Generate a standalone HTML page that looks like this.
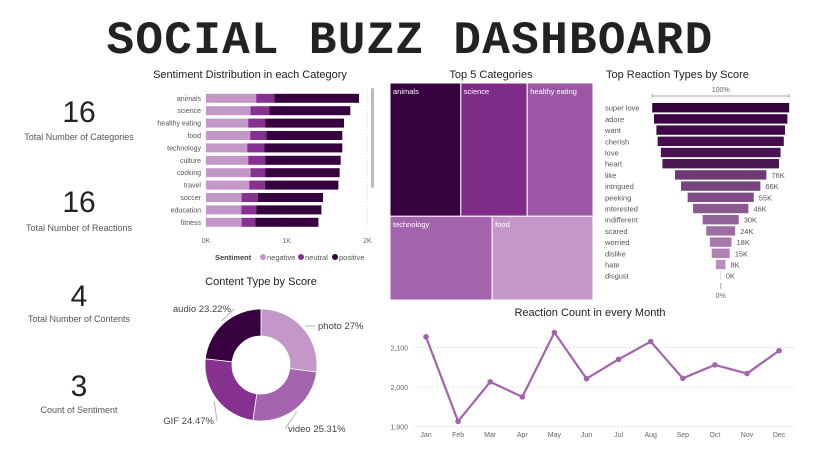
<!DOCTYPE html>
<html><head><meta charset="utf-8"><style>
html,body{margin:0;padding:0;background:#fff;}
svg{display:block;font-family:"Liberation Sans",sans-serif;}
</style></head><body>
<svg id="s" width="819" height="460" viewBox="0 0 819 460" xmlns="http://www.w3.org/2000/svg">
<text x="410" y="53" text-anchor="middle" font-family="Liberation Mono, monospace" font-weight="bold" font-size="46" letter-spacing="1.3" fill="#222">SOCIAL BUZZ DASHBOARD</text>

<g><text x="79" y="122" text-anchor="middle" font-size="30" fill="#222">16</text><text x="79" y="140" text-anchor="middle" font-size="9" fill="#555">Total Number of Categories</text></g>
<g><text x="79" y="212" text-anchor="middle" font-size="30" fill="#222">16</text><text x="79" y="231" text-anchor="middle" font-size="9" fill="#555">Total Number of Reactions</text></g>
<g><text x="79" y="306" text-anchor="middle" font-size="30" fill="#222">4</text><text x="79" y="322" text-anchor="middle" font-size="9" fill="#555">Total Number of Contents</text></g>
<g><text x="79" y="396" text-anchor="middle" font-size="30" fill="#222">3</text><text x="79" y="413" text-anchor="middle" font-size="9" fill="#555">Count of Sentiment</text></g>

<text x="250" y="78" text-anchor="middle" font-size="11" fill="#222">Sentiment Distribution in each Category</text>
<g id="sent"></g>
<rect x="371" y="88" width="3" height="100" rx="1.5" fill="#bbb"/>

<text x="491" y="78" text-anchor="middle" font-size="11" fill="#222">Top 5 Categories</text>
<g id="tree"></g>

<text x="606" y="78" font-size="11" fill="#222">Top Reaction Types by Score</text>
<g id="fun"></g>

<text x="261" y="285" text-anchor="middle" font-size="11" fill="#222">Content Type by Score</text>
<g id="donut"></g>

<text x="590" y="316" text-anchor="middle" font-size="11" fill="#222">Reaction Count in every Month</text>
<g id="line"></g>
</svg>
<script>
var NS="http://www.w3.org/2000/svg";
function mk(p,t,a,txt){var e=document.createElementNS(NS,t);for(var k in a)e.setAttribute(k,a[k]);if(txt!=null)e.textContent=txt;p.appendChild(e);return e;}

// Sentiment data
var sentCats=["animals","science","healthy eating","food","technology","culture","cooking","travel","soccer","education","fitness"];
var sentNeg=[622,552,523,548,511,523,552,536,441,437,441];
var sentNeu=[227,231,210,198,214,210,181,194,202,185,169];
var sentPos=[1047,1005,977,943,964,936,923,910,807,808,783];
var sentTicks=[0,1000,2000];
var sentTickLabels=["0K","1K","2K"];
// Treemap data
var treeCats=["animals","science","healthy eating","technology","food"];
var treeVals=[9403,8818,8738,8527,8418];
// Funnel data
var funCats=["super love","adore","want","cherish","love","heart","like","intrigued","peeking","interested","indifferent","scared","worried","dislike","hate","disgust"];
var funVals=[114,111,107,105,99.6,97,76,66,55,46,30,24,18,15,8,0.3];
// Donut data
var donutCats=["photo","video","GIF","audio"];
var donutVals=[27,25.31,24.47,23.22];
// Line data
var months=["Jan","Feb","Mar","Apr","May","Jun","Jul","Aug","Sep","Oct","Nov","Dec"];
var monthVals=[2127,1913,2013,1975,2138,2021,2070,2115,2022,2056,2034,2092];
var lineTicks=[1900,2000,2100];
var lineTickLabels=["1,900","2,000","2,100"];

// Sentiment
(function(){
 var g=document.getElementById('sent');
 var x=function(v){return 206+v*0.0807;};
 var y=function(i){return 98.3+i*12.4;};
 sentTicks.forEach(function(t,i){
  var l=mk(g,'line',{x1:x(t),x2:x(t),y1:88,y2:228,stroke:'#ddd','stroke-dasharray':'1,2'});
  
  
  var tx=mk(g,'text',{x:x(t),y:243,'text-anchor':'middle','font-size':7,fill:'#666'},sentTickLabels[i]);
  
  
 });
 sentCats.forEach(function(c,i){
  var cy=y(i);
  var lb=mk(g,'text',{x:201,y:cy+2.5,'text-anchor':'end','font-size':7,fill:'#555'},c);
  
  
  var segs=[[sentNeg[i],'#c497c9','negative'],[sentNeu[i],'#86318f','neutral'],[sentPos[i],'#37003f','positive']];
  var acc=0;
  segs.forEach(function(sg){
   var r=mk(g,'rect',{x:x(acc),y:cy-4.5,width:x(acc+sg[0])-x(acc),height:9,fill:sg[1]});
   
   
   acc+=sg[0];
  });
 });
 var lg=mk(g,'g',{});
 
 
 mk(lg,'text',{x:215,y:260,'font-size':7.5,'font-weight':'bold',fill:'#444'},'Sentiment');
 [['negative','#c497c9',263],['neutral','#86318f',301],['positive','#37003f',335]].forEach(function(e){
  var it=mk(lg,'g',{});
  
  
  mk(it,'circle',{cx:e[2],cy:257,r:3,fill:e[1]});
  mk(it,'text',{x:e[2]+4,y:260,'font-size':7.5,fill:'#555'},e[0]);
 });
})();

// Treemap
(function(){
 var g=document.getElementById('tree');
 var X0=390,Y0=83,W=203,H=217;
 var rows=[[0,1,2],[3,4]];
 var total=treeVals.reduce(function(a,b){return a+b;},0);
 var cols=['#37003f','#7e2c88','#9c56a6','#a463ad','#c497c9'];
 var yy=Y0;
 rows.forEach(function(r){
  var rs=r.reduce(function(a,i){return a+treeVals[i];},0);
  var rh=H*rs/total, xx=X0;
  r.forEach(function(i){
   var w=W*treeVals[i]/rs;
   var rc=mk(g,'rect',{x:xx,y:yy,width:w,height:rh,fill:cols[i],stroke:'#fff','stroke-width':1});
   
   
   var t=mk(g,'text',{x:xx+3,y:yy+11,'font-size':7.5,fill:'#fff'},treeCats[i]);
   
   
   xx+=w;
  });
  yy+=rh;
 });
})();

// Funnel
(function(){
 var g=document.getElementById('fun');
 var cx=720.7, full=137, max=Math.max.apply(null,funVals);
 var w=function(v){return full*v/max;};
 var y=function(i){return 107.7+i*11.2;};
 mk(g,'text',{x:cx,y:92,'text-anchor':'middle','font-size':7,fill:'#666'},'100%');
 mk(g,'path',{d:'M'+(cx-full/2)+' 94V98M'+(cx-full/2)+' 96H'+(cx+full/2)+'M'+(cx+full/2)+' 94V98',stroke:'#aaa',fill:'none'});
 var c1=[55,0,63],c2=[196,151,201];
 funCats.forEach(function(c,i){
  var cy=y(i);
  var lb=mk(g,'text',{x:605,y:cy+3,'font-size':7.5,fill:'#555'},c);
  
  
  var t=i<6?0.03*i:0.38+(i-6)/9*0.62;
  var col='rgb('+c1.map(function(a,k){return Math.round(a+(c2[k]-a)*t);}).join(',')+')';
  var bw=w(funVals[i]);
  var r=mk(g,'rect',{x:cx-bw/2,y:cy-4.7,width:bw,height:9.4,fill:col});
  
  
  if(funVals[i]<90){
   var v=mk(g,'text',{x:cx+bw/2+5,y:cy+3,'font-size':7.5,fill:'#555'},Math.round(funVals[i])+'K');
   
   
  }
 });
 mk(g,'line',{x1:cx,x2:cx,y1:283,y2:289,stroke:'#aaa'});
 mk(g,'text',{x:cx,y:298,'text-anchor':'middle','font-size':7,fill:'#666'},'0%');
})();

// Donut
(function(){
 var g=document.getElementById('donut');
 var cx=261,cy=365,R=56,r=29;
 var cols=['#c497c9','#a463ad','#86318f','#37003f'];
 var tot=donutVals.reduce(function(a,b){return a+b;},0), a0=-Math.PI/2;
 var labs=[[318,329,'start'],[288,432,'start'],[214,424,'end'],[231,312,'end']];
 donutVals.forEach(function(v,i){
  var a1=a0+2*Math.PI*v/tot, lg=(a1-a0)>Math.PI?1:0;
  var p='M'+(cx+R*Math.cos(a0))+' '+(cy+R*Math.sin(a0))+'A'+R+' '+R+' 0 '+lg+' 1 '+(cx+R*Math.cos(a1))+' '+(cy+R*Math.sin(a1))+
   'L'+(cx+r*Math.cos(a1))+' '+(cy+r*Math.sin(a1))+'A'+r+' '+r+' 0 '+lg+' 0 '+(cx+r*Math.cos(a0))+' '+(cy+r*Math.sin(a0))+'Z';
  var sl=mk(g,'path',{d:p,fill:cols[i],stroke:'#fff','stroke-width':0.8});
  
  
  var am=(a0+a1)/2, ex=cx+(R+3)*Math.cos(am), ey=cy+(R+3)*Math.sin(am);
  var L=labs[i];
  var lx=L[2]=='start'?L[0]-3:L[0]+3;
  mk(g,'path',{d:'M'+ex+' '+ey+'L'+lx+' '+(L[1]-3),stroke:'#999',fill:'none','stroke-width':0.7});
  var t=mk(g,'text',{x:L[0],y:L[1],'text-anchor':L[2],'font-size':9.5,fill:'#444'},donutCats[i]+' '+(+v.toFixed(2))+'%');
  
  
  a0=a1;
 });
})();

// Line
(function(){
 var g=document.getElementById('line');
 var x=function(i){return 426+i*32.1;};
 var y=function(v){return 387-(v-2000)*0.395;};
 lineTicks.forEach(function(t,i){
  var l=mk(g,'line',{x1:413,x2:795,y1:y(t),y2:y(t),stroke:'#ccc','stroke-dasharray':'1,3'});
  
  
  var tx=mk(g,'text',{x:408,y:y(t)+3,'text-anchor':'end','font-size':7,fill:'#666'},lineTickLabels[i]);
  
  
 });
 var pts=monthVals.map(function(v,i){return x(i)+','+y(v);}).join(' ');
 var pl=mk(g,'polyline',{points:pts,fill:'none',stroke:'#a463ad','stroke-width':2.2,'stroke-linejoin':'round'});
 
 
 monthVals.forEach(function(v,i){
  var c=mk(g,'circle',{cx:x(i),cy:y(v),r:2.8,fill:'#a463ad'});
  
  
  var t=mk(g,'text',{x:x(i),y:437,'text-anchor':'middle','font-size':7,fill:'#666'},months[i]);
  
  
 });
})();
</script>
</body></html>
